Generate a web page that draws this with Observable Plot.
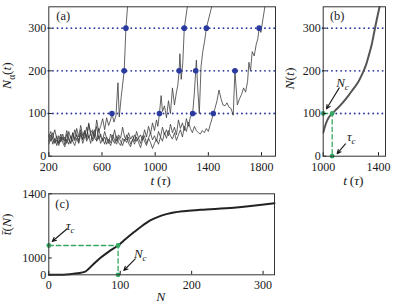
<!DOCTYPE html>
<html><head><meta charset="utf-8">
<script src="https://cdn.jsdelivr.net/npm/d3@7"></script>
<script src="https://cdn.jsdelivr.net/npm/@observablehq/plot@0.6"></script>
<style>
body{margin:0;background:#fff}
#wrap{position:relative;width:399px;height:305px;overflow:hidden;background:#fff}
#wrap svg{position:absolute;left:0;top:0}
#wrap svg, #wrap svg text{font-family:"Liberation Serif","DejaVu Serif",serif !important}
</style></head><body><div id="wrap"></div>
<script>
// ---------- data ----------
const levels = [100, 200, 300];
const xTicksA = [200, 600, 1000, 1400, 1800];
const yTicksA = [0, 100, 200, 300];
const xTicksB = [1000, 1400];
const yTicksB = [0, 100, 200, 300];
const xTicksC = [0, 100, 200, 300];
const yTicksC = [0, 1000, 1400];

const tA = [200,215,230,245,260,275,290,305,320,335,350,365,380,395,410,425,440,455,470,485,500,515,530,545,560,575,590,605,620,635,650,665,675,690,705,720,730,745,767,780,792];
const nA = [45,58,40,32,48,30,38,52,35,60,42,30,55,40,65,45,72,48,60,40,78,55,62,45,85,58,70,88,62,90,72,85,100,80,95,172,92,140,200,300,350];

const tB = [200,215,230,245,260,275,290,305,320,335,350,365,380,395,410,425,440,455,470,485,500,515,530,545,560,575,590,605,620,635,650,665,680,695,710,725,740,755,770,785,800,815,830,845,860,875,890,905,920,935,950,965,980,995,1010,1020,1032,1045,1055,1070,1085,1100,1115,1130,1145,1160,1170,1180,1186,1196,1208,1219,1242];
const nB = [35,50,28,42,25,48,33,45,27,52,38,30,55,36,50,32,62,40,55,35,48,30,58,42,36,65,45,38,58,42,30,52,40,62,35,50,42,68,45,38,55,40,48,35,58,42,50,38,62,45,70,52,78,60,85,70,100,142,105,118,90,130,100,160,120,150,165,200,240,180,220,300,350];

const tC = [200,215,230,245,260,275,290,305,320,335,350,365,380,395,410,425,440,455,470,485,500,515,530,545,560,575,590,605,620,635,650,665,680,695,710,725,740,755,770,785,800,815,830,845,860,875,890,905,920,935,950,965,980,995,1010,1025,1040,1055,1070,1085,1100,1115,1130,1145,1160,1175,1190,1205,1220,1235,1250,1265,1282,1295,1305,1310,1320,1332,1345,1358,1372,1385,1425];
const nC = [28,42,55,30,38,25,45,32,22,40,28,48,35,25,42,30,50,38,60,45,75,50,40,62,35,48,30,42,28,45,35,25,40,30,48,32,25,42,35,50,30,22,40,28,45,32,20,38,48,30,42,55,38,48,35,58,45,68,50,62,48,75,55,68,50,85,65,78,60,88,70,92,100,150,200,225,160,100,210,245,270,300,350];

const tD = [200,215,230,245,260,275,290,305,320,335,350,365,380,395,410,425,440,455,470,485,500,515,530,545,560,575,590,605,620,635,650,665,680,695,710,725,740,755,770,785,800,815,830,845,860,875,890,905,920,935,950,965,980,995,1010,1025,1040,1055,1070,1085,1100,1115,1130,1145,1160,1175,1190,1205,1220,1235,1250,1265,1280,1295,1310,1325,1340,1355,1370,1385,1400,1415,1425,1437,1450,1465,1480,1495,1510,1525,1540,1555,1570,1587,1600,1618,1635,1650,1665,1680,1695,1705,1717,1730,1745,1760,1772,1782,1795,1810,1825];
const nD = [50,35,45,62,40,30,52,38,45,30,58,42,35,62,48,38,55,30,45,68,42,55,35,48,70,40,52,35,45,28,40,32,50,38,28,45,35,25,40,32,45,28,38,50,35,42,30,48,35,25,42,32,18,30,40,28,45,35,55,42,60,48,40,55,37,50,62,45,70,58,80,65,55,70,60,55,52,60,55,65,58,75,85,100,112,130,155,135,120,118,125,115,112,96,200,120,135,145,160,150,175,220,200,245,235,262,275,300,290,320,350];

const cross100 = [675, 1032, 1282, 1437];
const cross200 = [767, 1180, 1305, 1600];
const cross300 = [780, 1219, 1385, 1782];

// panel (b): mean curve N(t)
const bT = [1000,1015,1029,1045,1065,1100,1140,1180,1210,1250,1283,1310,1330,1350,1367,1380,1391,1408];
const bN = [55,72,84,93,100,111,125,141,154,172,193,214,236,260,287,308,325,350];
const tauB = 1065, NcB = 100;

// panel (c): mean time t̄(N)  (y axis is broken: 0–1000 compressed, 1000–1400 expanded)
const cN = [0,20,40,51,62,72,84,97,108,119,130,142,154,166,189,212,259,316];
const cT = [0,5,90,190,620,1000,1040,1078,1120,1160,1198,1234,1258,1275,1292,1300,1313,1341];
const tauC = 1078, NcC = 97;
const yBreakC = [0, 1000, 1400];     // values
const yBreakSpan = [0, 16.8, 81];    // share of axis length for each break

// annotation anchors (data units)
const labelsB = [{x:1140, y:173, s:"Nc"}, {x:1203, y:46, s:"τc"}];
const arrowsB = [{x1:1116,y1:160,x2:1024,y2:111},{x1:1161,y1:29,x2:1101,y2:6}];
const labelsC = [{x:30, y:1202, s:"τc"}, {x:128, y:1026, s:"Nc"}];
const arrowsC = [{x1:25.7,y1:1182,x2:4.8,y2:1103},{x1:121,y1:952,x2:105,y2:256}];

// ---------- styling ----------
const blue = "#2b3a9e", green = "#34a862", ink = "#1a1a1a";
const W = 399, H = 305;
const style = {fontFamily: "Liberation Serif, DejaVu Serif, serif", fontSize: "12px", background: "transparent", color: ink, overflow: "visible"};
const fmt = d => String(d);

const traceRows = [["A",tA,nA],["B",tB,nB],["C",tC,nC],["D",tD,nD]]
  .flatMap(([id,t,n]) => t.map((v,i) => ({id, t:v, n:n[i]})));
const dotRows = [...cross100.map(t=>({t,n:100})), ...cross200.map(t=>({t,n:200})), ...cross300.map(t=>({t,n:300}))];
const bRows = bT.map((t,i)=>({t, n:bN[i]}));

// piecewise (broken) axis for panel (c)
const brk = d3.scaleLinear().domain(yBreakC).range(yBreakSpan);
const cRows = cN.map((n,i)=>({n, u: brk(cT[i])}));

const dotted = {stroke: blue, strokeWidth: 1.9, strokeDasharray: "0.01,4.6", strokeLinecap: "round"};
const dashed = {stroke: green, strokeWidth: 1.3, strokeDasharray: "4.5,3"};
const lbl = (s, o) => Plot.text([s], {text: d=>d, textAnchor:"middle", lineAnchor:"middle", fill: ink, ...o});

const pa = Plot.plot({
  width: W, height: H, marginLeft: 48.3, marginRight: 124, marginTop: 6.3, marginBottom: 149.3,
  style,
  x: {domain: [200, 1905], label: null},
  y: {domain: [0, 350], label: null},
  marks: [
    Plot.ruleY(levels, dotted),
    Plot.line(traceRows, {x:"t", y:"n", z:"id", stroke:"#3c3c3c", strokeWidth:0.8, clip:true}),
    Plot.dot(dotRows, {x:"t", y:"n", r:2.8, fill: blue}),
    Plot.axisX({ticks: xTicksA, tickFormat: fmt, tickSize: -3.5, tickPadding: 9.5, label: null}),
    Plot.axisY({ticks: yTicksA, tickFormat: fmt, tickSize: -3.5, tickPadding: 6, label: null}),
    Plot.frame({stroke: "#333"}),
    lbl("(a)", {frameAnchor:"top-left", dx:14.4, dy:8.7, fontSize:12.5}),
    lbl("Nα(t)", {frameAnchor:"left", dx:-42, dy:-6, rotate:-90, fontSize:13.5}),
    lbl("t (τ)", {frameAnchor:"bottom", dx:-1.5, dy:24.5, fontSize:13.5})
  ]
});

const pb = Plot.plot({
  width: W, height: H, marginLeft: 322.7, marginRight: 14, marginTop: 6.3, marginBottom: 149.3,
  style,
  x: {domain: [1000, 1451], label: null},
  y: {domain: [0, 350], label: null},
  marks: [
    Plot.ruleY([200, 300], dotted),
    Plot.ruleY([NcB], {...dotted, x1: tauB, x2: 1451}),
    Plot.line(bRows, {x:"t", y:"n", stroke:"#555", strokeWidth:2, curve:"catmull-rom", clip:true}),
    Plot.line([[1000,NcB],[tauB,NcB],[tauB,0]], dashed),
    Plot.dot([[1000,NcB],[tauB,NcB],[tauB,0]], {r:2.4, fill: green}),
    Plot.arrow(arrowsB, {x1:"x1", y1:"y1", x2:"x2", y2:"y2", stroke: ink, strokeWidth:1.1, headLength:6, headAngle:50}),
    Plot.text(labelsB, {x:"x", y:"y", text:"s", fontSize:13, fill: ink}),
    Plot.axisX({ticks: xTicksB, tickFormat: fmt, tickSize: -3.5, tickPadding: 9.5, label: null}),
    Plot.axisY({ticks: yTicksB, tickFormat: fmt, tickSize: -3.5, tickPadding: 6, label: null}),
    Plot.frame({stroke: "#333"}),
    lbl("(b)", {frameAnchor:"top-left", dx:14, dy:8.7, fontSize:12.5}),
    lbl("N(t)", {frameAnchor:"left", dx:-33.5, dy:-3, rotate:-90, fontSize:13.5}),
    lbl("t (τ)", {frameAnchor:"bottom", dx:-1, dy:24, fontSize:13.5})
  ]
});

const pc = Plot.plot({
  width: W, height: H, marginLeft: 48.3, marginRight: 125, marginTop: 193.3, marginBottom: 30.7,
  style,
  x: {domain: [0, 316], label: null},
  y: {domain: [0, brk(1400)], label: null},
  marks: [
    Plot.line(cRows, {x:"n", y:"u", stroke:"#222", strokeWidth:2, curve:"monotone-x"}),
    Plot.line([[0,tauC],[NcC,tauC],[NcC,0]], {x: d=>d[0], y: d=>brk(d[1]), ...dashed}),
    Plot.dot([[0,tauC],[NcC,tauC],[NcC,0]], {x: d=>d[0], y: d=>brk(d[1]), r:2.4, fill: green}),
    Plot.arrow(arrowsC, {x1:"x1", y1: d=>brk(d.y1), x2:"x2", y2: d=>brk(d.y2), stroke: ink, strokeWidth:1.1, headLength:6, headAngle:50}),
    Plot.text(labelsC, {x:"x", y: d=>brk(d.y), text:"s", fontSize:13, fill: ink}),
    Plot.axisX({ticks: xTicksC, tickFormat: fmt, tickSize: -3.5, tickPadding: 9.5, label: null}),
    Plot.axisY({ticks: yTicksC.map(brk), tickFormat: u => String(Math.round(brk.invert(u))), tickSize: -3.5, tickPadding: 6, label: null}),
    Plot.frame({stroke: "#333"}),
    lbl("(c)", {frameAnchor:"top-left", dx:13.4, dy:10.2, fontSize:12.5}),
    lbl("t̄(N)", {frameAnchor:"left", dx:-42, dy:-10, rotate:-90, fontSize:13.5}),
    lbl("N", {frameAnchor:"bottom", dx:-1, dy:22, fontSize:13.5})
  ]
});

// ---------- rich text (italics, subscripts) ----------
const I = s => `<tspan font-style="italic">${s}</tspan>`;
const sub = s => `<tspan dy="3.5" font-size="9" font-style="italic">${s}</tspan>`;
const rich = {
  "Nα(t)": I("N") + `<tspan dy="3.5" font-size="9.5">α</tspan><tspan dy="-3.5">(</tspan>` + I("t") + ")",
  "N(t)": I("N") + "(" + I("t") + ")",
  "t̄(N)": I("t̄") + "(" + I("N") + ")",
  "t (τ)": I("t") + "\u2009(" + I("τ") + ")",
  "N": I("N"),
  "Nc": I("N") + sub("c"),
  "τc": I("τ") + sub("c")
};
const wrap = document.getElementById("wrap");
for (const svg of [pa, pb, pc]) {
  svg.setAttribute("font-family", "Liberation Serif, DejaVu Serif, serif");
  svg.querySelectorAll("text").forEach(t => {
    if (t.children.length === 0 && rich[t.textContent] !== undefined) t.innerHTML = rich[t.textContent];
  });
  wrap.appendChild(svg);
}
</script></body></html>
